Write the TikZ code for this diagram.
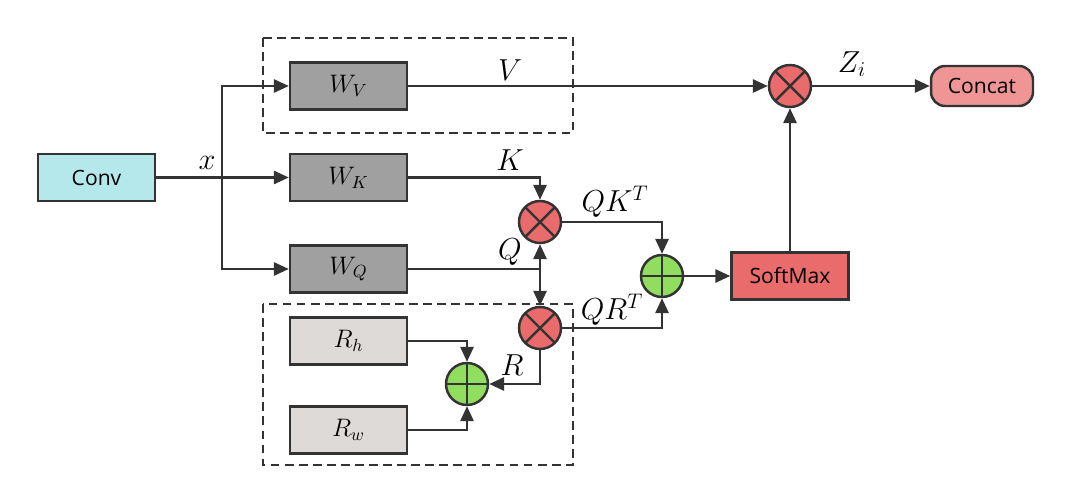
\documentclass[tikz,border=0pt]{standalone}
\usepackage{fontspec}
\setsansfont{Open Sans}
\usetikzlibrary{arrows.meta}
\definecolor{convc}{HTML}{B4E8EA}
\definecolor{wc}{HTML}{A0A0A0}
\definecolor{rc}{HTML}{DEDAD7}
\definecolor{redc}{HTML}{EA6B6B}
\definecolor{greenc}{HTML}{90DD60}
\definecolor{catc}{HTML}{F09595}
\definecolor{linec}{HTML}{333333}
\tikzset{
 box/.style={draw=linec, line width=1.4pt, minimum width=2.34cm, minimum height=0.94cm, inner sep=0pt, font=\Large},
 mul/.style={circle, draw=linec, line width=1.4pt, fill=redc, minimum size=0.84cm, inner sep=0pt,
   path picture={\draw[linec, line width=1.4pt] (path picture bounding box.north west) -- (path picture bounding box.south east)
     (path picture bounding box.north east) -- (path picture bounding box.south west);}},
 add/.style={circle, draw=linec, line width=1.4pt, fill=greenc, minimum size=0.84cm, inner sep=0pt,
   path picture={\draw[linec, line width=1.4pt] (path picture bounding box.north) -- (path picture bounding box.south)
     (path picture bounding box.east) -- (path picture bounding box.west);}},
 lab/.style={font=\LARGE, inner sep=0pt},
 conn/.style={draw=linec, line width=1.3pt},
 arr/.style={conn, -{Triangle[length=8.5pt, width=7.5pt]}},
}

\begin{document}
\begin{tikzpicture}[x=0.02cm, y=-0.02cm]
 \useasboundingbox (0,0) rectangle (1070,503);
 \draw [linec, line width=1.3pt, dash pattern=on 5pt off 3pt] (263,38) rectangle (573,133);
 \draw [linec, line width=1.3pt, dash pattern=on 5pt off 3pt] (263,304) rectangle (573,465);
 \node (conv) [box, fill=convc, font=\large\sffamily] at (96.5,177.5) {Conv};
 \node (wv) [box, fill=wc] at (348.5,86) {$W_V$};
 \node (wk) [box, fill=wc] at (348.5,177.5) {$W_K$};
 \node (wq) [box, fill=wc] at (348.5,269) {$W_Q$};
 \node (rh) [box, fill=rc] at (348.5,341) {$R_h$};
 \node (rw) [box, fill=rc] at (348.5,430) {$R_w$};
 \node (qk) [mul] at (540,222) {};
 \node (qr) [mul] at (540,328) {};
 \node (rsum) [add] at (467,384) {};
 \node (sum) [add] at (662,276) {};
 \node (soft) [box, fill=redc, font=\large\sffamily] at (790,276) {SoftMax};
 \node (zmul) [mul] at (790,86) {};
 \node (concat) [box, fill=catc, rounded corners=8pt, minimum width=2.04cm, minimum height=0.8cm, font=\large\sffamily] at (982,86) {Concat};
 \coordinate (xsplit) at (222,177.5);
 \coordinate (qsplit) at (540,269);
 \draw [conn, line width=1.8pt] (conv.east) -- (xsplit);
 \draw [arr] (xsplit) |- (wv.west);
 \draw [arr] (xsplit) -- (wk.west);
 \draw [arr] (xsplit) |- (wq.west);
 \draw [arr] (wv.east) -- (zmul.west);
 \draw [arr] (zmul.east) -- (concat.west);
 \draw [arr] (wk.east) -| (qk.north);
 \draw [conn] (wq.east) -- (qsplit);
 \draw [arr] (qsplit) -- (qk.south);
 \draw [arr] (qsplit) -- (qr.north);
 \draw [arr] (qk.east) -| (sum.north);
 \draw [arr] (qr.east) -| (sum.south);
 \draw [arr] (sum.east) -- (soft.west);
 \draw [arr] (soft.north) -- (zmul.south);
 \draw [arr] (rh.east) -| (rsum.north);
 \draw [arr] (rw.east) -| (rsum.south);
 \draw [arr] (qr.south) |- (rsum.east);
 \node (xl) [lab] at (207,163) {$x$};
 \node (vl) [lab] at (510,70) {$V$};
 \node (kl) [lab] at (510,160) {$K$};
 \node (ql) [lab] at (510,252) {$Q$};
 \node (qkl) [lab] at (615,202) {$QK^T$};
 \node (qrl) [lab] at (612,310) {$QR^T$};
 \node (rl) [lab] at (512,365) {$R$};
 \node (zl) [lab] at (852,64) {$Z_i$};
\end{tikzpicture}
\end{document}
